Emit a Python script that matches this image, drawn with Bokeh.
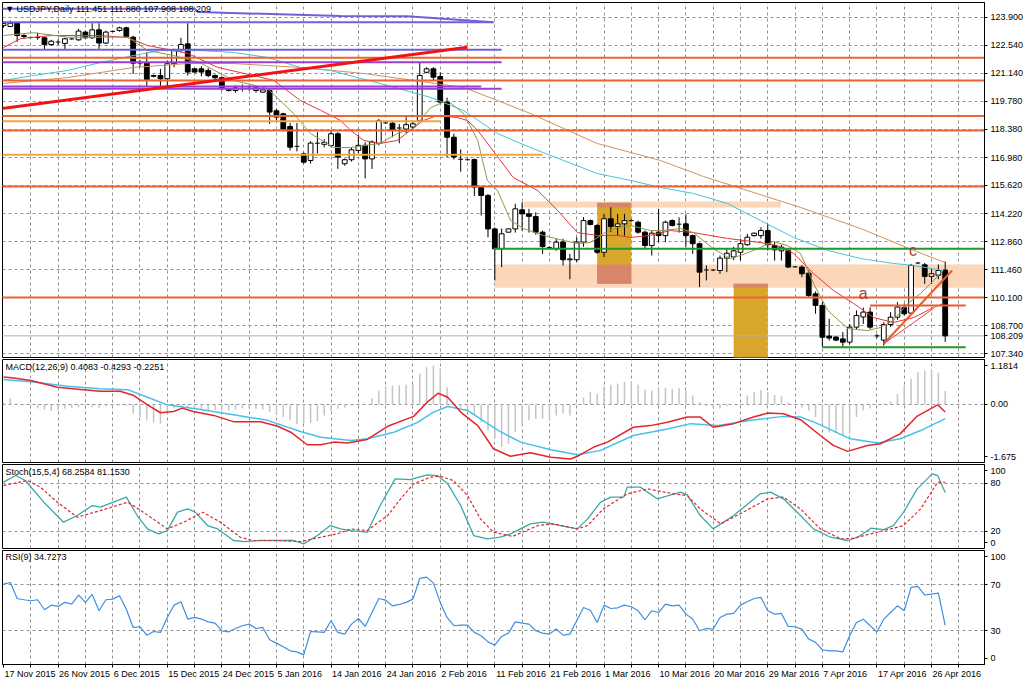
from bokeh.plotting import figure
from bokeh.layouts import column
from bokeh.models import FixedTicker, Grid, Label, Range1d
from bokeh.core.properties import value
from bokeh.embed import file_html
from bokeh.resources import INLINE

FONT = "Liberation Sans, Arial, sans-serif"
FS = 9  # px

# ---------------- data ----------------
x_labels = ["17 Nov 2015", "26 Nov 2015", "6 Dec 2015", "15 Dec 2015", "24 Dec 2015",
            "5 Jan 2016", "14 Jan 2016", "24 Jan 2016", "2 Feb 2016", "11 Feb 2016",
            "21 Feb 2016", "1 Mar 2016", "10 Mar 2016", "20 Mar 2016", "29 Mar 2016",
            "7 Apr 2016", "17 Apr 2016", "26 Apr 2016"]
x_label_bars = [0, 8, 16, 24, 32, 40, 48, 56, 64, 72, 80, 88, 96, 104, 112, 120, 128, 136]

opens = [123.50, 123.46, 123.62, 123.01, 122.92, 122.92, 122.90, 122.57, 122.70, 122.62,
         122.84, 122.80, 123.18, 122.90, 123.29, 122.64, 123.20, 123.26, 123.39, 122.93,
         121.65, 121.65, 121.00, 121.04, 120.88, 121.62, 122.27, 122.60, 121.37, 121.37,
         121.29, 121.04, 120.93, 120.30, 120.30, 120.42, 120.40, 120.30, 120.22, 120.30,
         119.30, 119.15, 118.53, 117.56, 117.18, 116.85, 117.71, 117.65, 117.59, 118.17,
         116.69, 116.89, 117.35, 117.60, 116.93, 117.70, 118.72, 118.69, 118.45, 118.40,
         118.50, 118.82, 121.20, 121.37, 120.99, 119.73, 118.00, 116.92, 116.90, 116.90,
         115.54, 115.13, 113.48, 112.50, 113.32, 113.48, 114.42, 114.22, 114.09, 113.32,
         112.58, 112.50, 112.83, 111.96, 111.96, 112.83, 113.89, 113.65, 112.33, 113.98,
         113.60, 113.73, 113.90, 113.81, 113.32, 112.66, 113.32, 113.15, 113.89, 113.70,
         113.73, 113.15, 112.75, 111.45, 111.45, 111.43, 112.04, 112.10, 112.33, 112.70,
         113.15, 113.15, 113.40, 112.66, 112.40, 112.41, 111.62, 111.60, 111.30, 110.28,
         109.71, 108.20, 108.15, 108.06, 107.90, 108.64, 109.14, 109.38, 108.22, 108.00,
         108.77, 109.13, 109.60, 109.33, 111.80, 111.71, 111.14, 111.20, 111.451]
highs = [123.70, 123.75, 123.66, 123.10, 122.96, 123.15, 122.95, 122.80, 122.82, 122.90,
         122.88, 123.34, 123.25, 123.62, 123.62, 123.25, 123.25, 123.45, 123.45, 123.00,
         121.80, 122.19, 121.08, 121.37, 121.78, 122.36, 122.90, 123.62, 121.40, 121.50,
         121.40, 121.10, 121.00, 120.40, 120.55, 120.60, 120.55, 120.50, 120.36, 120.40,
         119.40, 119.20, 118.70, 118.70, 117.25, 117.80, 118.25, 117.90, 118.30, 118.25,
         116.95, 117.50, 118.10, 117.75, 117.85, 118.90, 118.75, 118.75, 118.65, 118.99,
         118.80, 121.70, 121.45, 121.45, 121.20, 119.95, 118.17, 117.40, 116.95, 116.95,
         115.60, 115.20, 113.55, 113.50, 113.50, 114.72, 114.80, 114.47, 114.30, 113.40,
         112.62, 113.00, 113.00, 112.25, 113.07, 114.06, 113.95, 113.73, 114.22, 114.55,
         114.22, 114.22, 113.95, 113.89, 113.40, 113.40, 114.47, 113.89, 113.95, 114.05,
         114.20, 113.20, 112.80, 111.68, 111.50, 112.17, 112.50, 112.60, 112.99, 113.24,
         113.30, 113.56, 113.73, 112.85, 112.70, 112.50, 111.65, 111.70, 111.45, 110.40,
         109.87, 109.05, 108.20, 108.40, 108.80, 109.46, 109.60, 109.62, 108.30, 108.88,
         109.38, 109.87, 109.80, 111.76, 111.85, 111.80, 111.50, 111.73, 111.880]
lows = [123.40, 123.42, 122.70, 122.85, 122.88, 122.80, 122.31, 122.50, 122.55, 122.31,
        122.80, 122.75, 122.85, 122.85, 122.31, 122.60, 123.18, 123.20, 122.90, 121.12,
        121.45, 120.50, 120.95, 120.50, 120.47, 121.45, 122.20, 121.04, 121.18, 121.00,
        120.95, 120.80, 120.30, 120.25, 120.20, 120.25, 120.30, 120.20, 120.20, 118.66,
        118.80, 118.30, 117.35, 117.30, 116.70, 116.70, 117.20, 117.50, 117.50, 116.44,
        116.60, 116.80, 117.20, 115.97, 116.44, 117.60, 118.65, 118.00, 117.70, 118.20,
        118.40, 118.75, 121.15, 120.80, 119.65, 117.02, 116.90, 116.30, 116.85, 115.10,
        114.14, 113.07, 110.94, 111.60, 113.30, 113.30, 113.40, 113.30, 113.20, 112.25,
        112.50, 112.40, 111.68, 111.00, 111.83, 112.60, 113.65, 112.25, 112.09, 113.32,
        113.15, 113.15, 113.85, 113.25, 112.50, 112.17, 112.83, 112.83, 113.60, 113.30,
        112.60, 112.25, 110.61, 110.94, 111.40, 111.27, 111.35, 111.95, 111.92, 112.65,
        113.10, 113.00, 112.41, 111.92, 111.92, 111.55, 111.58, 111.10, 110.12, 109.30,
        107.65, 107.98, 107.95, 107.65, 107.80, 108.50, 108.80, 108.55, 108.10, 107.73,
        108.64, 109.00, 109.20, 109.28, 111.75, 110.77, 110.77, 111.00, 107.908]
closes = [123.60, 123.62, 123.01, 122.96, 122.90, 122.90, 122.57, 122.73, 122.68, 122.85,
          122.85, 123.23, 122.90, 123.29, 122.64, 123.18, 123.23, 123.39, 122.96, 121.65,
          121.66, 120.83, 121.04, 120.88, 121.62, 122.27, 122.57, 121.21, 121.21, 121.21,
          121.04, 120.93, 120.39, 120.36, 120.43, 120.39, 120.42, 120.43, 120.33, 119.24,
          118.99, 118.41, 117.51, 117.54, 116.77, 117.71, 117.70, 117.75, 118.17, 117.02,
          116.89, 117.38, 117.60, 116.93, 117.76, 118.82, 118.70, 118.33, 118.46, 118.62,
          118.66, 121.04, 121.37, 120.96, 119.73, 118.00, 117.02, 116.90, 116.88, 115.54,
          115.13, 113.48, 112.50, 113.24, 113.48, 114.47, 114.22, 114.10, 113.32, 112.61,
          112.55, 112.83, 111.96, 112.00, 112.83, 113.89, 113.70, 112.33, 113.98, 113.60,
          113.73, 113.89, 113.88, 113.32, 112.66, 113.27, 113.15, 113.81, 113.65, 113.73,
          113.15, 112.75, 111.35, 111.46, 111.46, 112.04, 112.28, 112.40, 112.75, 113.07,
          113.27, 113.40, 112.70, 112.45, 112.58, 111.60, 111.60, 111.27, 110.20, 109.71,
          108.14, 108.10, 108.00, 107.90, 108.64, 109.21, 109.38, 108.64, 108.20, 108.77,
          109.13, 109.63, 109.30, 111.68, 111.80, 111.14, 111.27, 111.43, 108.209]

price_ticks = [123.900, 122.540, 121.140, 119.780, 118.380, 116.980, 115.620,
               114.220, 112.860, 111.460, 110.100, 108.700, 107.340]

# moving averages (bar index, price)
ma_fast_x = [0, 4.4, 9.4, 18.2, 21.1, 24.9, 28.9, 33.7, 38.7, 42.5, 45.0, 48.4, 50.8, 55.2, 57.7,
             60.1, 62.6, 65.1, 67.4, 69.5, 70.9, 72.4, 74.3, 76.2, 79.1, 82.1, 84.1, 86.0, 87.9,
             90.0, 91.9, 94.8, 96.7, 99.2, 101.1, 104.0, 106.5, 108.0, 110.9, 112.8, 114.9, 116.8,
             118.7, 120.8, 123.7, 126.6, 128.5, 130.4, 132.5, 134.4, 136.3, 137.7]
ma_fast_y = [123.01, 123.15, 122.93, 122.93, 122.27, 122.03, 121.65, 120.80, 120.40, 119.17, 118.18,
             117.49, 117.49, 117.69, 118.18, 118.43, 119.46, 119.81, 119.17, 117.84, 115.87, 115.37,
             113.90, 113.50, 113.16, 112.91, 112.76, 112.81, 113.26, 113.55, 113.65, 113.40, 113.40,
             113.50, 113.30, 112.51, 112.02, 112.17, 112.56, 112.86, 112.66, 112.27, 110.79, 109.46,
             108.57, 108.47, 108.62, 108.97, 109.80, 110.30, 110.94, 111.43]
ma_mid_x = [0, 2.5, 6.9, 14.2, 18.2, 21.1, 27.0, 31.4, 36.6, 39.6, 43.5, 46.5, 49.4, 50.9, 52.8,
            55.2, 57.7, 61.5, 63.6, 66.5, 68.0, 69.5, 71.4, 74.7, 78.3, 81.2, 84.1, 87.0, 90.0,
            91.9, 94.8, 97.7, 101.1, 106.1, 110.9, 113.4, 115.8, 118.7, 121.6, 124.6, 127.5,
            130.4, 133.4, 136.3, 137.7]
ma_mid_y = [122.42, 122.86, 123.01, 123.01, 122.91, 122.52, 122.13, 121.44, 121.04, 120.80, 119.81,
            119.32, 118.82, 118.33, 117.84, 117.69, 117.84, 118.82, 119.07, 118.97, 118.82, 118.33,
            117.49, 116.01, 115.37, 114.39, 113.30, 113.16, 113.16, 113.06, 113.16, 113.40, 113.30,
            113.01, 112.81, 112.66, 112.27, 111.28, 110.45, 109.80, 109.11, 108.87, 109.11, 109.61,
            109.80]
ma_slow_x = [0, 4.4, 9.4, 14.2, 19.1, 23.0, 28.9, 33.7, 38.7, 43.5, 47.9, 55.2, 62.6, 67.4, 72.4,
             77.2, 82.1, 87.0, 91.9, 96.3, 101.1, 106.1, 110.9, 115.8, 120.8, 125.6, 130.4, 133.4,
             137.7]
ma_slow_y = [120.80, 121.04, 121.29, 121.68, 122.03, 122.27, 122.27, 122.18, 121.93, 121.44, 121.29,
             120.65, 119.96, 119.32, 118.18, 117.49, 116.85, 116.21, 115.87, 115.52, 115.23, 114.73,
             113.90, 113.06, 112.42, 112.02, 111.78, 111.68, 111.43]
ma_long_x = [0, 9.4, 19.1, 27.0, 33.7, 43.5, 52.8, 60.1, 67.4, 72.4, 77.2, 87.0, 96.3, 102.6,
             116.8, 125.6, 133.4, 137.9]
ma_long_y = [120.65, 120.94, 121.44, 121.63, 121.63, 121.44, 121.14, 120.80, 120.45, 119.81, 119.17,
             117.69, 116.85, 116.06, 114.54, 113.50, 112.42, 111.83]

# drawn objects
full_levels = [121.91, 120.80, 119.04, 118.33, 115.57, 110.10]
part_level_price = [118.79, 117.13, 122.31, 123.67, 121.70, 120.50, 120.39, 112.50, 107.65, 109.71]
part_level_start = [-1, -1, -1, -1, -1, -1, -1, 71.8, 120.0, 127.0]
part_level_end = [64.0, 79.0, 73.0, 71.8, 73.0, 70.0, 73.0, 144.5, 141.0, 141.0]
trend_x0 = [-0.44, 129.0, 129.0]
trend_y0 = [119.40, 107.82, 107.82]
trend_x1 = [68.0, 139.0, 136.3]
trend_y1 = [122.43, 111.43, 109.56]
channel_x = [-1, 28, 28.5, 49.4, 59.2, 71.8]
channel_y = [124.33, 124.33, 124.17, 123.97, 123.96, 123.67]
band_left = [76.2, 72.0]
band_right = [113.9, 144.5]
band_top = [114.83, 111.73]
band_bottom = [114.54, 110.58]
box_left = [87.0, 107.0]
box_right = [92.0, 112.0]
box_top = [114.77, 110.78]
box_bottom = [110.78, 100.0]
wave_labels = ["a", "c"]
wave_x = [126.0, 133.3]
wave_y = [110.32, 112.40]

# MACD
macd_x = [0, 1.5, 4.0, 7.9, 11.7, 14.2, 17.1, 19.1, 21.1, 23.0, 24.9, 26.2, 27.8, 30.8, 33.7, 37.7,
          40.2, 42.1, 44.5, 46.5, 48.4, 50.4, 53.3, 56.3, 60.1, 62.1, 63.7, 65.1, 67.0, 69.5, 71.8,
          74.3, 77.2, 80.2, 83.1, 84.1, 86.5, 88.5, 92.3, 94.8, 97.3, 100.2, 102.1, 104.0, 107.0,
          109.9, 112.0, 114.3, 116.8, 119.7, 121.6, 123.7, 126.6, 128.5, 131.4, 133.9, 136.9, 138]
macd_y = [0.83, 0.80, 0.73, 0.52, 0.45, 0.40, 0.40, 0.27, -0.01, -0.25, -0.21, -0.11, -0.21, -0.33,
          -0.52, -0.52, -0.66, -0.84, -1.22, -1.22, -1.14, -1.17, -1.06, -0.66, -0.36, 0.07, 0.34,
          0.22, -0.23, -0.64, -1.34, -1.57, -1.46, -1.60, -1.65, -1.57, -1.29, -1.14, -0.69, -0.64,
          -0.54, -0.38, -0.38, -0.69, -0.58, -0.38, -0.26, -0.28, -0.46, -0.94, -1.24, -1.42, -1.24,
          -1.19, -0.89, -0.35, -0.01, -0.2251]
signal_x = [0, 4.4, 9.4, 14.2, 18.2, 21.1, 24.0, 28.9, 33.7, 38.7, 43.5, 46.5, 50.9, 53.3, 57.2,
            60.7, 63.0, 65.1, 68.0, 71.4, 72.8, 75.8, 80.2, 84.1, 87.5, 92.3, 97.3, 100.7, 104.6,
            109.5, 114.3, 116.8, 119.3, 124.1, 128.1, 131.4, 134.4, 138]
signal_y = [0.76, 0.68, 0.55, 0.48, 0.45, 0.22, -0.01, -0.15, -0.31, -0.48, -0.82, -0.99, -1.09,
            -1.04, -0.84, -0.54, -0.23, -0.06, -0.18, -0.64, -0.82, -1.14, -1.37, -1.52, -1.39,
            -0.94, -0.74, -0.58, -0.64, -0.48, -0.36, -0.38, -0.58, -1.04, -1.17, -1.04, -0.79,
            -0.4293]
macd_hist = [0.05, 0.19, 0.02, -0.02, -0.05, -0.12, -0.15, -0.20, -0.18, -0.12,
             -0.10, -0.08, -0.05, -0.08, -0.10, -0.06, -0.05, -0.03, -0.04, -0.28,
             -0.38, -0.48, -0.55, -0.58, -0.28, -0.12, -0.05, -0.10, -0.12, -0.15,
             -0.17, -0.17, -0.18, -0.18, -0.15, -0.12, -0.13, -0.13, -0.15, -0.23,
             -0.31, -0.38, -0.48, -0.58, -0.56, -0.56, -0.50, -0.33, -0.20, -0.13,
             -0.10, -0.03, 0.00, 0.02, 0.19, 0.42, 0.55, 0.57, 0.58, 0.60,
             0.62, 0.93, 1.13, 1.18, 1.10, 0.52, 0.00, -0.10, -0.18, -0.31,
             -0.54, -0.79, -1.04, -1.29, -1.19, -0.84, -0.64, -0.48, -0.43, -0.43,
             -0.48, -0.33, -0.28, -0.33, -0.05, 0.21, 0.39, 0.32, 0.55, 0.60,
             0.63, 0.68, 0.70, 0.60, 0.45, 0.42, 0.47, 0.50, 0.47, 0.50,
             0.42, 0.27, 0.07, -0.05, -0.10, -0.12, -0.05, 0.00, 0.02, 0.27,
             0.37, 0.44, 0.37, 0.29, 0.25, 0.07, 0.02, -0.10, -0.18, -0.38,
             -0.59, -0.84, -0.86, -0.96, -0.88, -0.38, -0.18, -0.12, -0.02, 0.04,
             0.10, 0.32, 0.58, 0.78, 0.98, 1.03, 1.03, 0.96, 0.4083]
macd_ticks = [1.1814, 0.0, -1.675]
macd_tick_labels = ["1.1814", "0.00", "-1.675"]

# Stochastic
stoch_main_x = [0, 1.8, 3.2, 5.9, 8.8, 10.8, 13.0, 14.2, 16.1, 18.0, 19.6, 21.1, 22.7, 24.0, 25.5,
                27.0, 28.1, 29.9, 31.4, 33.7, 35.2, 37.7, 40.2, 42.5, 44.0, 46.0, 47.9, 49.4, 50.9,
                53.3, 55.2, 57.4, 59.6, 62.1, 63.6, 65.1, 67.0, 68.9, 70.9, 72.8, 74.3, 77.2, 79.1,
                81.6, 84.1, 85.6, 87.5, 89.0, 90.9, 91.4, 93.3, 95.8, 99.2, 100.2, 102.1, 104.0,
                107.0, 110.9, 112.4, 114.3, 116.8, 118.7, 121.2, 123.7, 125.2, 127.1, 129.0, 130.4,
                131.9, 133.9, 136.1, 136.9, 138]
stoch_main_y = [81.3, 89.6, 83.4, 56.3, 31.3, 39.6, 52.1, 50.0, 56.3, 62.6, 39.6, 22.9, 16.7, 20.8,
                43.8, 47.9, 43.8, 27.1, 22.9, 8.4, 7.1, 8.4, 8.4, 8.4, 4.2, 14.6, 27.1, 22.9, 20.8,
                18.8, 52.1, 85.4, 84.6, 90.4, 89.6, 79.2, 52.1, 14.6, 10.4, 12.5, 16.7, 29.2, 31.3,
                27.1, 22.9, 35.4, 56.3, 62.6, 62.6, 75.1, 75.1, 60.5, 68.8, 65.5, 39.6, 22.9, 39.6,
                66.7, 68.8, 60.5, 39.6, 22.9, 12.5, 8.4, 12.5, 23.8, 22.1, 27.1, 43.8, 72.9, 91.7,
                89.6, 68.2584]
stoch_sig_x = [0, 3.5, 5.4, 7.9, 10.8, 14.2, 18.2, 20.5, 24.0, 26.4, 29.2, 31.8, 34.7, 36.6, 40.2,
               43.5, 46.5, 48.9, 50.9, 53.3, 56.3, 58.2, 60.1, 62.6, 64.0, 65.9, 68.0, 69.9, 71.8,
               74.6, 78.3, 80.6, 84.1, 85.6, 87.9, 91.4, 94.4, 98.2, 100.2, 102.1, 105.1, 108.4,
               112.0, 114.3, 116.8, 119.7, 122.7, 124.6, 127.1, 130.0, 131.9, 134.4, 136.9, 138]
stoch_sig_y = [77.1, 83.4, 75.1, 56.3, 37.5, 45.8, 56.3, 43.8, 22.9, 31.3, 43.8, 31.3, 12.5, 8.4,
               8.4, 7.1, 12.5, 16.7, 22.9, 20.8, 39.6, 60.5, 79.2, 87.5, 88.8, 83.4, 64.6, 35.4,
               18.8, 13.5, 27.1, 29.2, 22.9, 27.1, 47.9, 66.7, 72.9, 66.7, 64.6, 47.9, 29.2, 43.8,
               60.5, 62.6, 47.9, 22.9, 10.4, 11.2, 16.7, 22.9, 27.1, 47.9, 81.3, 81.1530]
stoch_ticks = [100, 80, 20, 0]
stoch_levels = [80, 20]

# RSI
rsi = [70.6, 72.0, 58.1, 57.0, 56.1, 57.0, 48.3, 52.3, 51.2, 54.7,
       53.2, 61.1, 54.7, 61.6, 47.4, 57.0, 57.5, 60.4, 48.8, 32.9,
       33.5, 26.2, 29.4, 28.6, 41.6, 52.3, 55.2, 40.2, 41.6, 40.2,
       37.8, 36.7, 30.0, 29.1, 32.0, 34.4, 35.8, 32.0, 32.9, 22.2,
       19.3, 16.1, 12.6, 11.7, 9.1, 29.4, 29.1, 28.6, 38.7, 28.6,
       27.1, 35.8, 40.7, 33.8, 45.9, 58.1, 56.6, 51.7, 52.9, 54.7,
       57.5, 75.5, 76.7, 71.4, 54.7, 41.6, 34.4, 34.9, 34.9, 28.6,
       25.7, 20.4, 17.5, 25.1, 28.0, 37.8, 36.7, 35.8, 30.0, 28.0,
       27.1, 31.5, 26.2, 27.1, 38.7, 50.3, 47.9, 37.2, 52.3, 49.4,
       50.0, 52.3, 50.9, 47.4, 39.6, 47.4, 45.9, 53.2, 51.7, 52.3,
       44.5, 40.2, 30.0, 32.0, 31.5, 41.6, 44.5, 45.1, 52.3, 55.2,
       58.1, 59.0, 47.4, 44.5, 45.1, 33.8, 33.5, 31.5, 22.8, 19.9,
       13.5, 12.6, 12.6, 11.7, 25.7, 37.2, 40.1, 34.4, 29.1, 40.1,
       45.9, 51.7, 47.4, 67.7, 68.6, 61.1, 61.9, 62.8, 34.7273]
rsi_ticks = [100, 70, 30, 0]
rsi_levels = [70, 30]

# ---------------- styling / layout ----------------
N = len(opens)
bars = list(range(N))
FRAME_W = 982
XR = Range1d(-0.147, 143.76)
PX_PER_BAR = FRAME_W / (XR.end - XR.start)
GRID_X = list(range(4, 145, 4))
GRID_COLOR = "#909090"
GRID_DASH = "3 3"

# Arial/Liberation Sans advance widths (per 1000 em) used to left-align date labels
CHAR_W = {" ": 278, ".": 278, ",": 278, "-": 333, "N": 722, "D": 722, "J": 500, "F": 611,
          "M": 833, "A": 667, "o": 556, "v": 500, "e": 556, "c": 500, "a": 556, "n": 556,
          "b": 556, "r": 333, "p": 556}


def text_px(s, size):
    return sum(CHAR_W.get(ch, 556) for ch in s) / 1000.0 * size


def make_panel(frame_h, y0, y1, top, bottom, with_xaxis=False):
    p = figure(frame_width=FRAME_W, frame_height=frame_h, x_range=XR, y_range=Range1d(y0, y1),
               output_backend="svg", toolbar_location=None,
               x_axis_location="below" if with_xaxis else None, y_axis_location="right",
               min_border_left=2, min_border_right=40, min_border_top=top, min_border_bottom=bottom)
    p.background_fill_color = "white"
    p.border_fill_color = "white"
    p.outline_line_color = "black"
    p.outline_line_width = 1
    ax = p.yaxis[0]
    ax.axis_line_color = "black"
    ax.major_tick_in = 0
    ax.major_tick_out = 3
    ax.major_tick_line_color = "black"
    ax.minor_tick_line_color = None
    ax.major_label_standoff = 3
    ax.major_label_text_font = FONT
    ax.major_label_text_font_size = f"{FS}px"
    ax.major_label_text_color = "black"
    p.ygrid.grid_line_color = GRID_COLOR
    p.ygrid.grid_line_dash = GRID_DASH
    p.xgrid.visible = False
    p.add_layout(Grid(dimension=0, ticker=FixedTicker(ticks=GRID_X),
                      grid_line_color=GRID_COLOR, grid_line_dash=GRID_DASH))
    return p


def edge_clamped(ticks, lo, hi, px_per_unit, margin_px=6):
    # MT4 keeps the scale labels inside their own pane
    m = margin_px / px_per_unit
    return [round(min(max(t, lo + m), hi - m), 4) for t in ticks]


# ---------- price panel ----------
P_LO, P_HI = 107.143, 124.639
p1 = make_panel(355, P_LO, P_HI, 2, 1)
axis_ticks = price_ticks + [closes[-1]]
p1.yaxis.ticker = FixedTicker(ticks=axis_ticks)
p1.yaxis.major_label_overrides = {t: f"{t:.3f}" for t in axis_ticks}
p1.ygrid.ticker = FixedTicker(ticks=price_ticks)

# zones
p1.quad(left=band_left, right=band_right, top=band_top, bottom=band_bottom,
        fill_color="#fcd6b8", line_color=None)
p1.quad(left=box_left, right=box_right, top=box_top, bottom=box_bottom,
        fill_color="#d9a62c", line_color=None)
ov = dict(left=[], right=[], top=[], bottom=[])
for i in range(len(band_left)):
    for j in range(len(box_left)):
        l = max(band_left[i], box_left[j]); r = min(band_right[i], box_right[j])
        t = min(band_top[i], box_top[j]); b = max(band_bottom[i], box_bottom[j])
        if l < r and b < t:
            ov["left"].append(l); ov["right"].append(r); ov["top"].append(t); ov["bottom"].append(b)
p1.quad(left=ov["left"], right=ov["right"], top=ov["top"], bottom=ov["bottom"],
        fill_color="#d8866a", line_color=None)

# current price line
p1.segment(x0=[-1], y0=[closes[-1]], x1=[150], y1=[closes[-1]], line_color="#a8b3c0", line_width=1)

# candles
p1.segment(x0=bars, y0=lows, x1=bars, y1=highs, line_color="black", line_width=1)
BW = 0.7
bull = [i for i in bars if closes[i] - opens[i] > 0.04]
bear = [i for i in bars if opens[i] - closes[i] > 0.04]
doji = [i for i in bars if abs(closes[i] - opens[i]) <= 0.04]
p1.vbar(x=bull, width=BW, top=[closes[i] for i in bull], bottom=[opens[i] for i in bull],
        fill_color="white", line_color="black", line_width=1)
p1.vbar(x=bear, width=BW, top=[opens[i] for i in bear], bottom=[closes[i] for i in bear],
        fill_color="black", line_color="black", line_width=1)
p1.segment(x0=[i - BW / 2 for i in doji], x1=[i + BW / 2 for i in doji],
           y0=[(opens[i] + closes[i]) / 2 for i in doji], y1=[(opens[i] + closes[i]) / 2 for i in doji],
           line_color="black", line_width=1)

# moving averages
p1.line(ma_long_x, ma_long_y, line_color="#d4915c", line_width=1)
p1.line(ma_slow_x, ma_slow_y, line_color="#47c4d0", line_width=1)
p1.line(ma_mid_x, ma_mid_y, line_color="#e5343c", line_width=1)
p1.line(ma_fast_x, ma_fast_y, line_color="#8d9a4c", line_width=1)

# level lines
p1.segment(x0=[-1] * len(full_levels), x1=[150] * len(full_levels), y0=full_levels, y1=full_levels,
           line_color="#ee6330", line_width=2)
part_colors = ["#f6a33c", "#f6a33c", "#6f62d8", "#6f62d8", "#9b3fd0", "#9b3fd0", "#9b3fd0",
               "#1f9a2a", "#1f9a2a", "#ee5a2a"]
p1.segment(x0=part_level_start, x1=part_level_end, y0=part_level_price, y1=part_level_price,
           line_color=part_colors, line_width=2)
p1.line(channel_x, channel_y, line_color="#6f62d8", line_width=2)
p1.segment(x0=trend_x0, y0=trend_y0, x1=trend_x1, y1=trend_y1,
           line_color=["#f01414", "#ee5a2a", "#e8403a"], line_width=[3, 2, 1])
p1.text(x=wave_x, y=wave_y, text=wave_labels, text_font=value(FONT), text_font_size="16px",
        text_color="#b83a2e", text_align="center", text_baseline="middle")

p1.add_layout(Label(x=0.25, y=124.34,
                    text=f"\u25BC USDJPY,Daily  {opens[-1]:.3f} {highs[-1]:.3f} {lows[-1]:.3f} {closes[-1]:.3f}",
                    text_font=FONT, text_font_size=f"{FS}px", text_color="black", text_baseline="middle"))

# ---------- MACD panel ----------
M_LO, M_HI = -1.7576, 1.3636
p2 = make_panel(103, M_LO, M_HI, 1, 1)
m_pos = edge_clamped(macd_ticks, M_LO, M_HI, 33.0, margin_px=6)
p2.yaxis.ticker = FixedTicker(ticks=m_pos)
p2.yaxis.major_label_overrides = dict(zip(m_pos, macd_tick_labels))
p2.ygrid.ticker = FixedTicker(ticks=[0.0])
p2.segment(x0=bars, y0=[0] * N, x1=bars, y1=macd_hist, line_color="#c4c4c4", line_width=1.5)
p2.line(signal_x, signal_y, line_color="#45c2ec", line_width=1.5)
p2.line(macd_x, macd_y, line_color="#e3262c", line_width=1.5)
p2.add_layout(Label(x=0.3, y=1.15,
                    text=f"MACD(12,26,9) {macd_hist[-1]:.4f} {signal_y[-1]:.4f} {macd_y[-1]:.4f}",
                    text_font=FONT, text_font_size=f"{FS}px", text_color="black", text_baseline="middle"))

# ---------- Stochastic panel ----------
S_LO, S_HI = -1.6, 103.4
p3 = make_panel(84, S_LO, S_HI, 1, 1)
s_pos = edge_clamped(stoch_ticks, S_LO, S_HI, 0.8)
p3.yaxis.ticker = FixedTicker(ticks=s_pos)
p3.yaxis.major_label_overrides = {pos: str(t) for pos, t in zip(s_pos, stoch_ticks)}
p3.ygrid.ticker = FixedTicker(ticks=stoch_levels)
p3.line(stoch_main_x, stoch_main_y, line_color="#3aa8a8", line_width=1.3)
p3.line(stoch_sig_x, stoch_sig_y, line_color="#e02828", line_width=1.2, line_dash="3 2")
p3.add_layout(Label(x=0.3, y=94.6,
                    text=f"Stoch(15,5,4) {stoch_main_y[-1]:.4f} {stoch_sig_y[-1]:.4f}",
                    text_font=FONT, text_font_size=f"{FS}px", text_color="black", text_baseline="middle"))

# ---------- RSI panel ----------
R_LO, R_HI = 0.7, 99.8
p4 = make_panel(114, R_LO, R_HI, 1, 19, with_xaxis=True)
r_pos = edge_clamped(rsi_ticks, R_LO, R_HI, 1.15)
p4.yaxis.ticker = FixedTicker(ticks=r_pos)
p4.yaxis.major_label_overrides = {pos: str(t) for pos, t in zip(r_pos, rsi_ticks)}
p4.ygrid.ticker = FixedTicker(ticks=rsi_levels)

# date labels: MT4 writes them left-aligned at the bar, so centre each label half its width to the right
label_centres = [round(b + (text_px(s, FS) / 2 + 1) / PX_PER_BAR, 4) for b, s in zip(x_label_bars, x_labels)]
xa = p4.xaxis[0]
xa.ticker = FixedTicker(ticks=label_centres, minor_ticks=[0] + GRID_X)
xa.major_label_overrides = dict(zip(label_centres, x_labels))
xa.axis_line_color = "black"
xa.major_tick_line_color = None
xa.major_tick_in = 0
xa.major_tick_out = 3
xa.minor_tick_in = 0
xa.minor_tick_out = 3
xa.minor_tick_line_color = "black"
xa.major_label_standoff = 1
xa.major_label_text_font = FONT
xa.major_label_text_font_size = f"{FS}px"
xa.major_label_text_color = "black"
p4.line(bars, rsi, line_color="#3f8fe0", line_width=1.2)
p4.add_layout(Label(x=0.3, y=94.5, text=f"RSI(9) {rsi[-1]:.4f}",
                    text_font=FONT, text_font_size=f"{FS}px", text_color="black", text_baseline="middle"))

layout = column(p1, p2, p3, p4)
open("out.html", "w").write(file_html(layout, INLINE))
